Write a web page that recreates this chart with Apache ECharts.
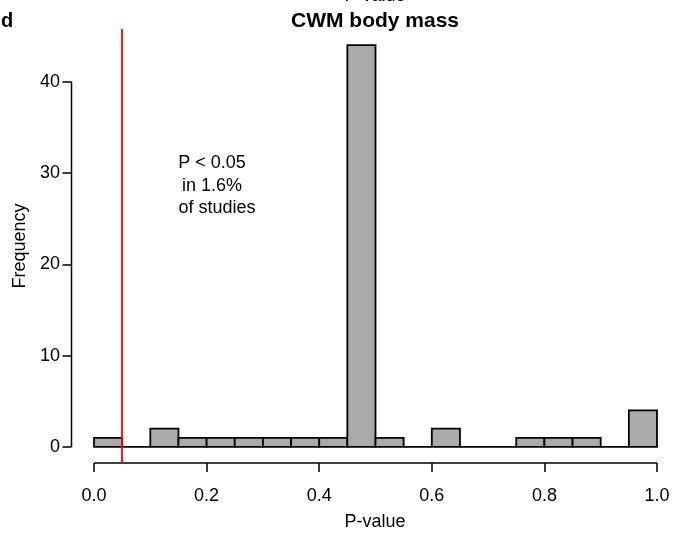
<!DOCTYPE html>
<html>
<head>
<meta charset="utf-8">
<script src="https://cdn.jsdelivr.net/npm/echarts@6/dist/echarts.min.js"></script>
<style>
html,body{margin:0;padding:0;background:#fff;}
#chart{width:674px;height:540px;}
</style>
</head>
<body>
<div id="chart"></div>
<script>
// Histogram bins (width 0.05) and counts
var binStarts = [0.00,0.05,0.10,0.15,0.20,0.25,0.30,0.35,0.40,0.45,0.50,0.55,0.60,0.65,0.70,0.75,0.80,0.85,0.90,0.95];
var binEnds   = [0.05,0.10,0.15,0.20,0.25,0.30,0.35,0.40,0.45,0.50,0.55,0.60,0.65,0.70,0.75,0.80,0.85,0.90,0.95,1.00];
var counts    = [1,0,2,1,1,1,1,1,1,44,1,0,2,0,0,1,1,1,0,4];
var xTicks = [0, 0.2, 0.4, 0.6, 0.8, 1.0];
var yTicks = [0, 10, 20, 30, 40];
var threshold = 0.05;
var annotationLines = ['P < 0.05', 'in 1.6%', 'of studies'];

var xMin = -0.04, xMax = 1.0302;
var yMin = -1.76, yMax = 45.76;
var FONT = 'Arial, "Liberation Sans", sans-serif';

var chart = echarts.init(document.getElementById('chart'), null, {renderer:'canvas'});
var data = binStarts.map(function(s,i){ return [s, binEnds[i], counts[i]]; });

var option = {
  animation: false,
  backgroundColor: '#fff',
  grid: {left: 71.5, top: 29, right: 0, height: 434, containLabel: false},
  xAxis: {
    type: 'value', min: xMin, max: xMax,
    axisLine: {show: false, onZero: false},
    splitLine: {show: false},
    axisTick: {show: true, inside: false, length: 9, customValues: xTicks, lineStyle: {color: '#000', width: 1.5}},
    axisLabel: {show: true, customValues: xTicks, margin: 24, fontSize: 18, color: '#000', fontFamily: FONT,
      formatter: function(v){ return v.toFixed(1); }}
  },
  yAxis: {
    type: 'value', min: yMin, max: yMax,
    axisLine: {show: false, onZero: false},
    splitLine: {show: false},
    axisTick: {show: true, inside: false, length: 9, customValues: yTicks, lineStyle: {color: '#000', width: 1.5}},
    axisLabel: {show: true, customValues: yTicks, margin: 11.5, fontSize: 18, color: '#000', fontFamily: FONT,
      formatter: function(v){ return String(Math.round(v)); }}
  },
  series: [
    {
      type: 'custom',
      data: data,
      encode: {x: [0,1], y: 2},
      renderItem: function(params, api){
        var p0 = api.coord([api.value(0), api.value(2)]);
        var p1 = api.coord([api.value(1), 0]);
        return {
          type: 'rect',
          shape: {x: p0[0], y: p0[1], width: p1[0]-p0[0], height: p1[1]-p0[1]},
          style: {fill: '#aaaaaa', stroke: '#000', lineWidth: 1.8}
        };
      },
      silent: true, z: 2
    },
    {
      type: 'line', data: [[xMin, yTicks[0]], [xMin, yTicks[yTicks.length-1]]],
      symbol: 'none', clip: false, silent: true,
      lineStyle: {color: '#000', width: 1.5}, z: 3
    },
    {
      type: 'line', data: [[xTicks[0], yMin], [xTicks[xTicks.length-1], yMin]],
      symbol: 'none', clip: false, silent: true,
      lineStyle: {color: '#000', width: 1.5}, z: 3
    },
    {
      type: 'line', data: [], silent: true, z: 4,
      markLine: {
        silent: true, symbol: 'none', animation: false,
        label: {show: false},
        lineStyle: {color: '#ff0000', type: 'solid', width: 1.8},
        data: [{xAxis: threshold}]
      }
    }
  ],
  graphic: [
    {type:'text', x: 375, y: 21, style:{text:'CWM body mass', font:'bold 21px '+FONT, fill:'#000', align:'center', verticalAlign:'middle'}},
    {type:'text', x: 375, y: -4, style:{text:'P-value', font:'18px '+FONT, fill:'#000', align:'center', verticalAlign:'middle'}},
    {type:'text', x: 7, y: 21, style:{text:'d', font:'bold 20px '+FONT, fill:'#000', align:'center', verticalAlign:'middle'}},
    {type:'text', x: 375, y: 522, style:{text:'P-value', font:'18px '+FONT, fill:'#000', align:'center', verticalAlign:'middle'}},
    {type:'text', x: 20, y: 246, rotation: Math.PI/2, style:{text:'Frequency', font:'18px '+FONT, fill:'#000', align:'center', verticalAlign:'middle'}},
    {type:'text', x: 212, y: 163, style:{text:annotationLines[0], font:'18px '+FONT, fill:'#000', align:'center', verticalAlign:'middle'}},
    {type:'text', x: 212, y: 186, style:{text:annotationLines[1], font:'18px '+FONT, fill:'#000', align:'center', verticalAlign:'middle'}},
    {type:'text', x: 217, y: 208, style:{text:annotationLines[2], font:'18px '+FONT, fill:'#000', align:'center', verticalAlign:'middle'}}
  ]
};
chart.setOption(option);
</script>
</body>
</html>
